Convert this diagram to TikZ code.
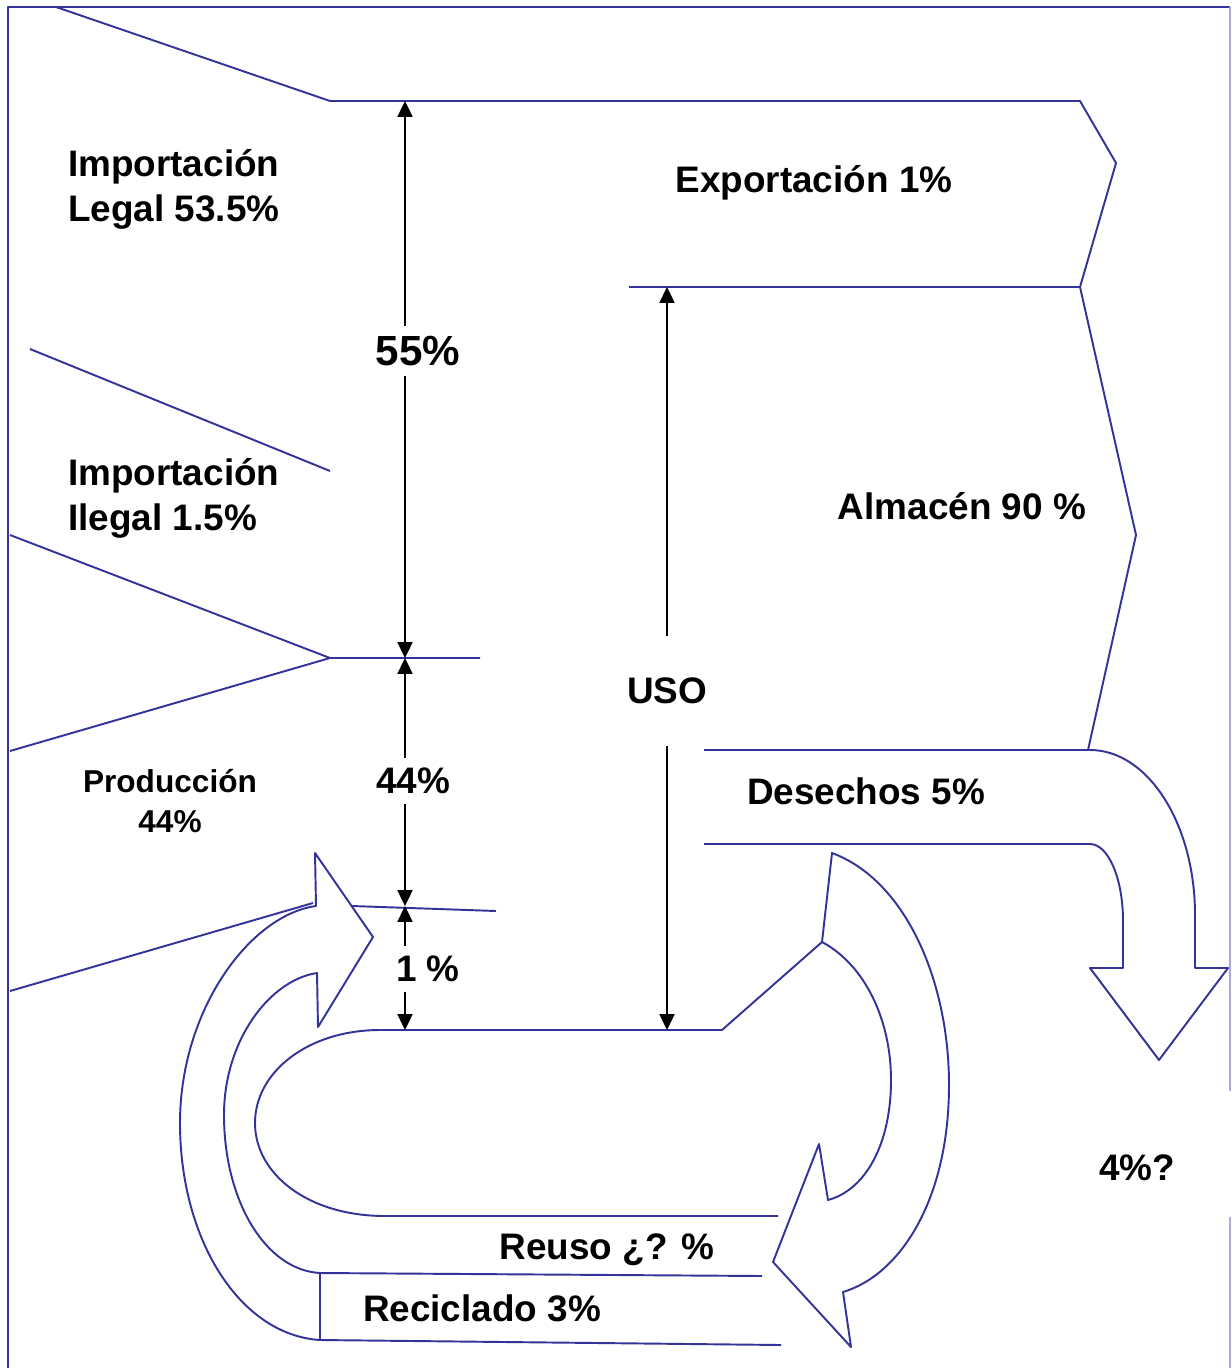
\documentclass[tikz,border=0pt]{standalone}
\usepackage{fontspec}
\setmainfont{Liberation Sans}
\usetikzlibrary{arrows.meta}
\definecolor{flowblue}{RGB}{51,51,153}
\definecolor{framelight}{RGB}{170,170,221}
\begin{document}
\begin{tikzpicture}[x=0.02cm, y=-0.02cm,
                    every node/.style = {font  = \bfseries\fontsize{21}{25.5}\selectfont,
                                         align = center},
                    flow line/.style  = {flowblue, line width = 1.1pt, line join = round},
                    dim label/.style  = {outer ysep = 2.5pt},
                    dim arrow/.style  = {-{Triangle[length=9pt, width=8.5pt]},
                                         black, line width = 1.1pt}]
\useasboundingbox (0,0) rectangle (1231,1368);

% frame
\draw[flow line] (8,1368) -- (8,7) -- (1230,7);
\draw[framelight, line width=0.8pt] (1230,7) -- (1230,1091);
\draw[framelight, line width=0.8pt] (1230,1217) -- (1230,1368);

% inputs and outputs
\draw[flow line] (56,7) -- (330,101) -- (1080,101) -- (1116,163) -- (1080,287)
                 -- (1136,535) -- (1088,750);
\draw[flow line] (629,287) -- (1080,287);
\draw[flow line] (30,349) -- (330,471);
\draw[flow line] (10,535) -- (330,658) -- (480,658);
\draw[flow line] (10,751) -- (330,658);
\draw[flow line] (10,991) -- (313,903);
\draw[flow line] (352,906) -- (496,911);

% desechos
\draw[flow line] (704,750) -- (1090,750) .. controls (1148,750) and (1195,824) .. (1195,915)
                 -- (1195,968) -- (1228,968) -- (1159,1060) -- (1090,968) -- (1123,968)
                 -- (1123,921) .. controls (1123,878) and (1108,844) .. (1090,844) -- (704,844);

% uso and reuso
\draw[flow line] (822,942) -- (722,1030) -- (380,1030)
                 .. controls (308,1030) and (255,1072) .. (255,1123)
                 .. controls (255,1174) and (308,1216) .. (385,1216) -- (778,1216);
\draw[flow line] (822,942) -- (832,853) .. controls (905,880) and (949,980) .. (949,1085)
                 .. controls (949,1200) and (900,1275) .. (843,1292) -- (851,1347)
                 -- (773,1262) -- (819,1144) -- (828,1200)
                 .. controls (865,1190) and (891,1145) .. (891,1080)
                 .. controls (891,1020) and (865,965) .. cycle;

% reciclado
\draw[flow line] (320,1273) .. controls (265,1270) and (224,1200) .. (224,1115)
                 .. controls (224,1040) and (270,980) .. (317,973) -- (318,1027)
                 -- (373,937) -- (315,853) -- (316,906)
                 .. controls (250,915) and (180,1010) .. (180,1123)
                 .. controls (180,1240) and (240,1335) .. (320,1340) -- cycle;
\draw[flow line] (320,1273) -- (762,1276);
\draw[flow line] (320,1340) -- (781,1345);

% the nodes
\node[align=left, anchor=west] (implegal)  at (62,189) {Importación\\Legal 53.5\%};
\node[align=left, anchor=west] (impilegal) at (62,498) {Importación\\Ilegal 1.5\%};
\node[font=\bfseries\fontsize{18}{22.5}\selectfont] (prod) at (170,801) {Producción\\44\%};
\node (export)    at (814,183)  {Exportación 1\%};
\node (almacen)   at (962,506)  {Almacén 90 \%};
\node (desechos)  at (866,791)  {Desechos 5\%};
\node (reuso)     at (607,1250) {Reuso ¿? \%};
\node (reciclado) at (482,1308) {Reciclado 3\%};
\node (resto)     at (1137,1168) {4\%?};

% dimension marks
\coordinate (t55)  at (405,101);
\coordinate (b55)  at (405,658);
\coordinate (b44)  at (405,906);
\coordinate (b1)   at (405,1030);
\coordinate (tuso) at (667,287);
\coordinate (buso) at (667,1030);

\node[dim label, font=\bfseries\fontsize{24}{28}\selectfont] (l55) at (418,351) {55\%};
\node[dim label] (l44)  at (413,781) {44\%};
\node[dim label] (l1)   at (428,969) {1 \%};
\node[outer ysep=20.5pt] (luso) at (667,691) {USO};

% edges
\foreach \lbl/\ta/\tb in {l55/t55/b55, l44/b55/b44, l1/b44/b1, luso/tuso/buso}
  { \draw[dim arrow] (\lbl.north -| \ta) -- (\ta);
    \draw[dim arrow] (\lbl.south -| \tb) -- (\tb); }
\end{tikzpicture}
\end{document}
